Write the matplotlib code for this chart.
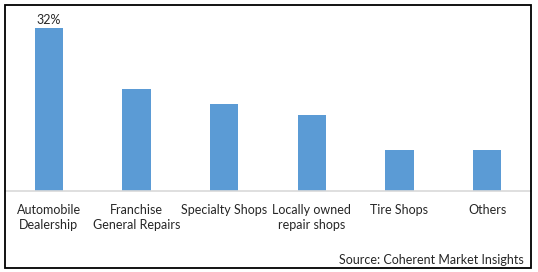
import matplotlib.pyplot as plt
from matplotlib.patches import Rectangle

categories = ["Automobile\nDealership", "Franchise\nGeneral Repairs", "Specialty Shops",
              "Locally owned\nrepair shops", "Tire Shops", "Others"]
shares = [32, 20, 17, 15, 8, 8]
label_text = "32%"
source = "Source: Coherent Market Insights"

W, H = 538, 272
fig = plt.figure(figsize=(W / 100, H / 100), dpi=100)
plt.rcParams['font.family'] = ['Lato', 'DejaVu Sans']

# outer frame
fig.patches.append(Rectangle((5 / W, 4 / H), 526 / W, 263 / H, transform=fig.transFigure,
                             fill=False, edgecolor="black", linewidth=1.3))

ax = fig.add_axes([5 / W, 81 / H, 526 / W, 186 / H])
x = range(len(categories))
ax.bar(x, shares, width=0.32, color="#5B9BD5")
ax.set_xlim(-0.5, len(categories) - 0.5)
ax.set_ylim(0, 36.5)

ax.text(0, shares[0] + 0.3, label_text, ha="center", va="bottom", fontsize=9, color="#262626")

for s in ["top", "right", "left"]:
    ax.spines[s].set_visible(False)
ax.spines["bottom"].set_color("#d9d9d9")
ax.spines["bottom"].set_linewidth(1.2)
ax.set_yticks([])
ax.set_xticks(list(x))
ax.set_xticklabels(categories, fontsize=9, color="#262626", linespacing=1.35, va="top")
ax.tick_params(axis="x", length=0, pad=9)

fig.text(524 / W, 1 - 260 / H, source, ha="right", va="center", fontsize=9, color="#262626")

fig.savefig("out.png", dpi=100)
